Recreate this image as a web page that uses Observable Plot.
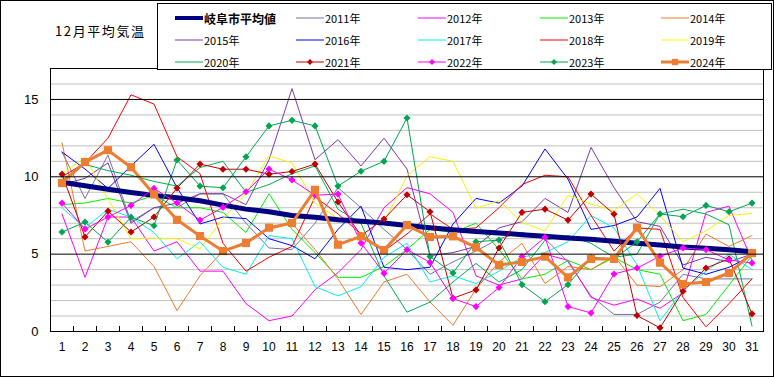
<!DOCTYPE html>
<html><head><meta charset="utf-8">
<script src="https://cdn.jsdelivr.net/npm/d3@7"></script>
<script src="https://cdn.jsdelivr.net/npm/@observablehq/plot@0.6"></script>
<style>
body{margin:0;background:#fff;}
#wrap{position:relative;width:774px;height:377px;overflow:hidden;background:#fff;}
#frame{position:absolute;left:0;top:0;width:774px;height:377px;box-sizing:border-box;border:1px solid #000;pointer-events:none;}
#title{position:absolute;left:55px;top:23px;font-family:"Noto Sans CJK JP",sans-serif;font-size:13px;letter-spacing:1.6px;color:#000;line-height:16px;}
#legend{position:absolute;left:157px;top:3px;width:615px;height:67px;box-sizing:border-box;border:1px solid #000;background:#fff;}
.item{position:absolute;height:14px;display:flex;align-items:center;font-family:"Noto Sans CJK JP",sans-serif;font-size:11px;color:#000;white-space:nowrap;}
.item svg{display:block;margin-right:1px;}
</style></head>
<body>
<div id="wrap"><div id="chart"></div><div id="title">12月平均気温</div><div id="legend"></div><div id="frame"></div></div>
<script>
const days = d3.range(1, 32);
const yTicks = [0, 5, 10, 15];
const avg = [9.65, 9.42, 9.2, 8.98, 8.8, 8.65, 8.45, 8.17, 7.91, 7.74, 7.5, 7.38, 7.23, 7.12, 7.01, 6.85, 6.7, 6.58, 6.47, 6.37, 6.26, 6.15, 6.04, 5.96, 5.83, 5.7, 5.59, 5.46, 5.38, 5.29, 5.16];
const y2011 = [11.6, 8.6, 11.4, 7.1, 8.0, 8.0, 8.9, 8.9, 7.0, 5.4, 5.3, 7.0, 9.3, 8.0, 6.6, 5.3, 3.7, 4.5, 5.2, 6.0, 6.4, 6.0, 4.5, 2.3, 1.1, 1.1, 1.9, 3.7, 3.4, 3.4, 3.4];
const y2012 = [7.6, 3.5, 7.4, 7.4, 5.2, 5.8, 3.9, 3.9, 1.8, 0.7, 1.0, 2.7, 3.8, 5.3, 8.0, 9.3, 8.9, 7.7, 3.6, 3.0, 3.4, 5.0, 4.6, 2.2, 1.7, 2.1, 1.5, 2.5, 7.7, 8.1, 4.6];
const y2013 = [8.2, 8.3, 8.6, 8.3, 8.8, 8.0, 8.0, 7.7, 6.4, 8.9, 6.6, 5.1, 3.5, 3.5, 4.2, 5.3, 6.6, 6.4, 7.0, 5.3, 3.4, 3.7, 4.6, 4.0, 4.8, 4.0, 3.7, 0.7, 1.1, 3.0, 4.9];
const y2014 = [12.2, 5.2, 5.5, 5.8, 4.2, 1.35, 3.6, 5.2, 5.8, 6.6, 7.0, 5.3, 3.4, 1.1, 3.2, 3.7, 1.9, 0.4, 2.75, 4.5, 5.7, 3.1, 4.2, 4.0, 4.9, 3.0, 2.9, 4.0, 6.3, 5.5, 6.2];
const y2015 = [9.5, 9.9, 10.9, 7.0, 8.0, 8.3, 8.9, 8.9, 8.2, 11.1, 15.7, 11.1, 12.4, 10.7, 12.5, 10.5, 4.9, 5.1, 5.5, 6.7, 7.1, 8.6, 7.7, 11.9, 9.3, 7.1, 6.8, 4.3, 4.8, 4.5, 5.0];
const y2016 = [11.6, 10.5, 9.25, 10.7, 12.1, 9.3, 6.95, 7.4, 7.3, 6.0, 5.55, 4.7, 6.6, 8.1, 4.15, 4.0, 4.15, 6.95, 8.6, 8.3, 9.4, 11.8, 9.85, 6.6, 6.85, 7.4, 9.25, 4.1, 3.7, 4.15, 4.9];
const y2017 = [8.0, 6.7, 7.9, 7.4, 6.4, 4.7, 5.8, 4.15, 3.7, 6.2, 6.0, 2.9, 2.3, 2.9, 4.8, 5.7, 3.2, 3.6, 3.1, 3.9, 4.8, 5.1, 5.8, 7.5, 6.7, 4.3, 0.7, 2.65, 3.9, 5.0, 4.0];
const y2018 = [10.0, 10.9, 12.5, 15.3, 14.7, 11.3, 10.2, 5.7, 3.9, 4.8, 5.5, 8.7, 7.6, 6.3, 5.2, 6.3, 7.6, 6.6, 6.7, 8.0, 9.5, 10.1, 10.0, 7.5, 5.2, 6.7, 6.6, 2.2, 0.3, 1.8, 3.4];
const y2019 = [10.2, 11.25, 8.56, 6.0, 6.04, 6.0, 5.33, 7.3, 8.9, 11.35, 10.9, 8.3, 7.3, 6.95, 7.05, 10.06, 11.3, 11.0, 7.96, 8.45, 7.05, 6.5, 8.8, 8.24, 7.8, 8.9, 7.5, 5.8, 6.5, 7.5, 7.63];
const y2020 = [9.8, 10.8, 10.4, 10.1, 9.7, 9.4, 10.6, 11.0, 9.0, 9.5, 10.2, 10.7, 7.9, 7.0, 3.6, 1.25, 1.9, 3.2, 4.4, 3.2, 4.0, 5.9, 6.2, 5.7, 4.8, 5.0, 7.6, 7.9, 7.6, 6.9, 0.35];
const y2021 = [10.17, 6.11, 7.78, 6.43, 7.4, 9.27, 10.82, 10.49, 10.49, 10.17, 10.34, 10.82, 8.37, 6.2, 7.27, 8.84, 7.74, 2.15, 2.69, 5.4, 7.7, 7.91, 7.2, 8.88, 7.59, 1.03, 0.24, 2.6, 4.1, 4.7, 1.14];
const y2022 = [8.3, 6.62, 7.4, 8.15, 9.25, 8.3, 7.2, 8.02, 9.03, 10.5, 9.8, 8.81, 8.88, 5.72, 3.76, 5.29, 4.47, 2.13, 1.61, 2.84, 4.84, 6.09, 1.61, 1.2, 3.72, 4.1, 4.86, 5.4, 5.29, 4.62, 4.43];
const y2023 = [6.43, 7.07, 5.78, 7.39, 6.84, 11.09, 9.4, 9.29, 11.29, 13.29, 13.65, 13.29, 9.4, 10.36, 11.0, 13.8, 4.84, 3.78, 5.8, 5.91, 3.03, 1.93, 3.03, 4.8, 4.7, 5.8, 7.6, 7.42, 8.15, 7.74, 8.3];
const y2024 = [9.6, 10.95, 11.72, 10.62, 8.86, 7.22, 6.17, 5.2, 5.72, 6.71, 7.01, 9.16, 5.61, 6.15, 5.26, 6.88, 6.11, 6.15, 5.44, 4.3, 4.5, 4.84, 3.5, 4.69, 4.69, 6.71, 4.45, 3.07, 3.2, 3.78, 5.07];

const series = [
  {name: "岐阜市平均値", values: avg, color: "#000080", width: 5, marker: null},
  {name: "2011年", values: y2011, color: "#7474A8", width: 1, marker: null},
  {name: "2012年", values: y2012, color: "#FF00FF", width: 1, marker: null},
  {name: "2013年", values: y2013, color: "#00F000", width: 1, marker: null},
  {name: "2014年", values: y2014, color: "#F07A2A", width: 1, marker: null},
  {name: "2015年", values: y2015, color: "#7A3AA6", width: 1, marker: null},
  {name: "2016年", values: y2016, color: "#0000FF", width: 1, marker: null},
  {name: "2017年", values: y2017, color: "#00F0F0", width: 1, marker: null},
  {name: "2018年", values: y2018, color: "#FF0000", width: 1, marker: null},
  {name: "2019年", values: y2019, color: "#F5F500", width: 1, marker: null},
  {name: "2020年", values: y2020, color: "#00B050", width: 1, marker: null},
  {name: "2021年", values: y2021, color: "#C00000", width: 1, marker: "diamond2"},
  {name: "2022年", values: y2022, color: "#FF00FF", width: 1, marker: "diamond2"},
  {name: "2023年", values: y2023, color: "#00A550", width: 1, marker: "diamond2"},
  {name: "2024年", values: y2024, color: "#ED7D31", width: 3, marker: "square"}
];

const boundaries = d3.range(1.5, 31, 1);
const drawOrder = [1,2,3,4,5,6,7,8,9,10,0,11,12,13,14];
const lineMarks = drawOrder.flatMap(k => {
  const s = series[k];
  const data = days.map((d, i) => ({day: d, value: s.values[i]}));
  const marks = [Plot.line(data, {x: "day", y: "value", stroke: s.color, strokeWidth: s.width, strokeLinejoin: "round"})];
  if (s.marker) marks.push(Plot.dot(data, {x: "day", y: "value", symbol: s.marker, r: s.marker === "square" ? 4.6 : 3.2, fill: s.color, stroke: "none"}));
  return marks;
});

const chart = Plot.plot({
  width: 774, height: 377,
  marginLeft: 50, marginRight: 11, marginTop: 68, marginBottom: 46,
  style: {fontFamily: "'Liberation Sans', Arial, sans-serif", background: "transparent", color: "#000"},
  x: {domain: [0.5, 31.5], axis: null},
  y: {domain: [0, 17], axis: null},
  marks: [
    Plot.ruleY(d3.range(1, 18).filter(v => v % 5 !== 0), {stroke: "#C0C0C0", strokeWidth: 1}),
    ...lineMarks,
    Plot.ruleY(yTicks, {stroke: "#000", strokeWidth: 1}),
    Plot.frame({stroke: "#000", strokeWidth: 1}),
    Plot.axisY({ticks: yTicks, tickSize: 0, tickPadding: 12, fontSize: 13, label: null}),
    Plot.axisX({ticks: days, tickSize: 0, tickPadding: 11, fontSize: 12, label: null}),
    Plot.axisX({ticks: boundaries, tickSize: 5, dy: -5, tickFormat: () => "", label: null, stroke: "#000"})
  ]
});
document.getElementById("chart").appendChild(chart);

// legend
const legend = document.getElementById("legend");
const colX = [17, 138, 260, 382, 503];
const rowY = [7, 29, 51];
series.forEach((s, i) => {
  const col = i % 5, row = Math.floor(i / 5);
  const div = document.createElement("div");
  div.className = "item";
  div.style.left = colX[col] + "px";
  div.style.top = rowY[row] + "px";
  const w = 28, h = 14;
  const svg = d3.create("svg").attr("width", w).attr("height", h);
  svg.append("line").attr("x1", 0).attr("x2", w).attr("y1", h/2).attr("y2", h/2)
    .attr("stroke", s.color).attr("stroke-width", s.width === 5 ? 4 : s.width);
  if (s.marker === "diamond2") svg.append("path").attr("d", d3.symbol(d3.symbolDiamond2, 22)()).attr("transform", `translate(${w/2},${h/2})`).attr("fill", s.color);
  if (s.marker === "square") svg.append("path").attr("d", d3.symbol(d3.symbolSquare, 40)()).attr("transform", `translate(${w/2},${h/2})`).attr("fill", s.color);
  div.appendChild(svg.node());
  const t = document.createElement("span");
  t.textContent = s.name;
  if (i === 0) { t.style.fontSize = "12px"; t.style.fontWeight = "bold"; }
  div.appendChild(t);
  legend.appendChild(div);
});
</script>
</body></html>
